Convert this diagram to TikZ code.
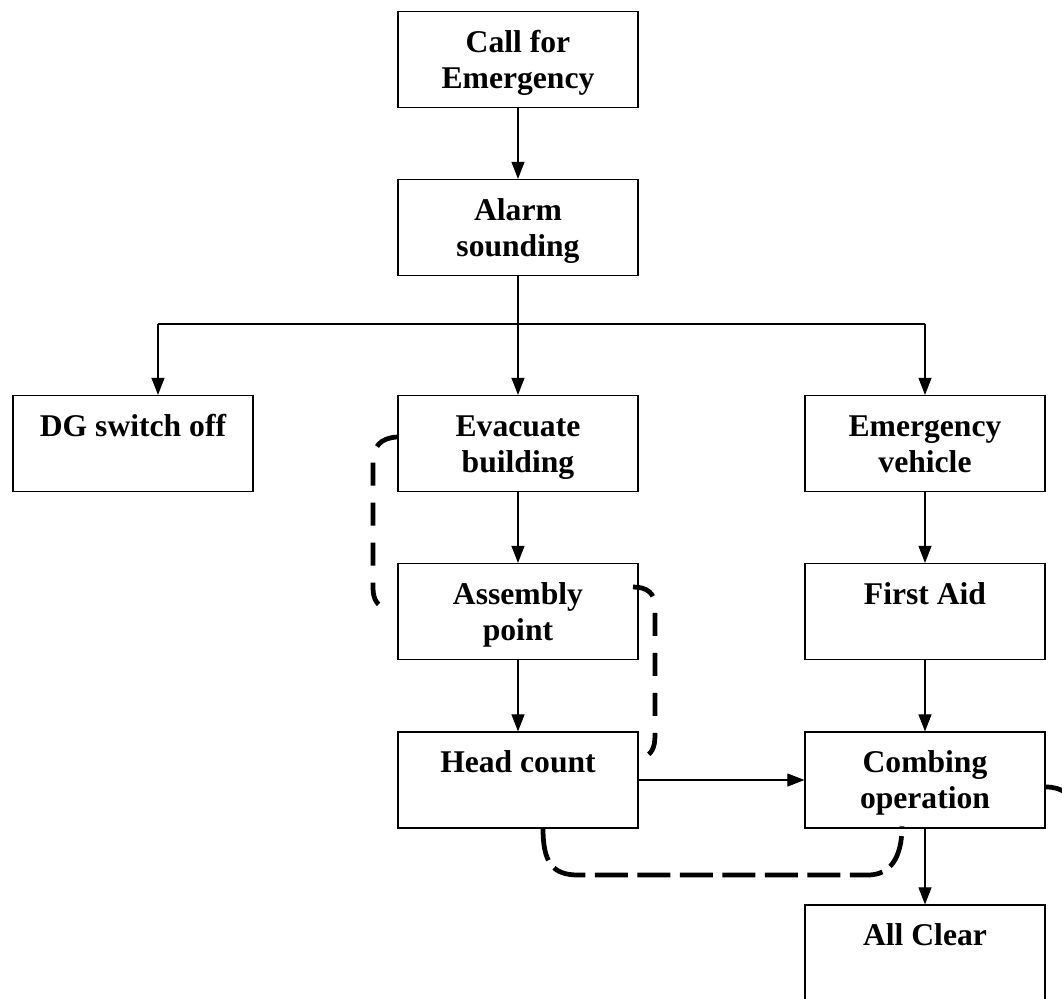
\documentclass[tikz,border=0pt]{standalone}
\usepackage{fontspec}
\setmainfont{Liberation Serif}
\usetikzlibrary{arrows.meta}
\tikzset{
  stepbox/.style={draw, line width=0.7pt, inner sep=0pt, font=\fontsize{18}{20.5}\selectfont\bfseries},
  arr/.style={line width=0.6pt, -{Triangle[length=0.34cm,width=0.26cm]}},
  plain/.style={line width=0.6pt},
  loopA/.style={line width=2.7pt, dash pattern=on 0.46cm off 0.34cm},
  loopB/.style={line width=2.7pt, dash pattern=on 0.66cm off 0.19cm}
}
\newcommand{\boxtext}[1]{\parbox[c][1.92cm][t]{4.8cm}{\centering\rule{0pt}{23.3pt}#1}}
\begin{document}
\begin{tikzpicture}[x=0.02cm,y=-0.02cm]
\fill[white] (0,0) rectangle (1062,998);
\clip (0,0) rectangle (1062,998);
% boxes
\node[stepbox] (call)  at (518,59.5)  {\boxtext{Call for\\Emergency}};
\node[stepbox] (alarm) at (518,227.5) {\boxtext{Alarm\\sounding}};
\node[stepbox] (dg)    at (133,443.5) {\boxtext{DG switch off}};
\node[stepbox] (evac)  at (518,443.5) {\boxtext{Evacuate\\building}};
\node[stepbox] (ev)    at (925,443.5) {\boxtext{Emergency\\vehicle}};
\node[stepbox] (asm)   at (518,611.5) {\boxtext{Assembly\\point}};
\node[stepbox] (fa)    at (925,611.5) {\boxtext{First Aid}};
\node[stepbox] (head)  at (518,780)   {\boxtext{Head count}};
\node[stepbox] (comb)  at (925,780)   {\boxtext{Combing\\operation}};
\node[stepbox] (clear) at (925,953)   {\boxtext{All Clear}};
% connectors
\coordinate (br)  at (518,324);
\coordinate (brL) at (158,324);
\coordinate (brR) at (925,324);
\draw[arr] (call) -- (alarm);
\draw[plain] (alarm) -- (br);
\draw[plain] (brL) -- (brR);
\draw[arr] (brL) -- (brL |- dg.north);
\draw[arr] (br) -- (evac);
\draw[arr] (brR) -- (ev);
\draw[arr] (evac) -- (asm);
\draw[arr] (asm) -- (head);
\draw[arr] (ev) -- (fa);
\draw[arr] (fa) -- (comb);
\draw[arr] (head) -- (comb);
\draw[arr] (comb) -- (clear);
% dashed loops
\coordinate (l1a) at (397,437);
\coordinate (l1b) at (386,609);
\draw[loopA] (l1a) .. controls (380,438) and (373,447) .. (373,462) -- (373,588) .. controls (373,600) and (378,606) .. (l1b);
\coordinate (l2a) at (633,587);
\coordinate (l2b) at (644,757);
\draw[loopA] (l2a) .. controls (647,587) and (655,593) .. (655,607) -- (655,735) .. controls (655,749) and (651,754) .. (l2b);
\coordinate (l3a) at (543,828);
\coordinate (l3b) at (902,826);
\draw[loopB] (l3a) .. controls (543,862) and (552,875) .. (578,875) -- (868,875) .. controls (890,875) and (902,858) .. (l3b);
\coordinate (l4a) at (1046,787);
\coordinate (l4b) at (1056,953);
\draw[loopA] (l4a) .. controls (1062,787) and (1074,795) .. (1074,812) -- (1074,928) .. controls (1074,942) and (1066,949) .. (l4b);
\end{tikzpicture}
\end{document}
